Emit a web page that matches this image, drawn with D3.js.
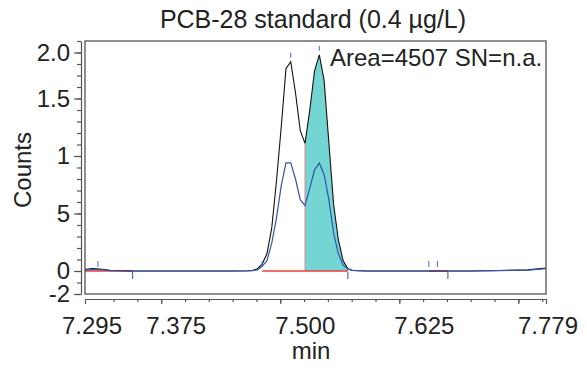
<!DOCTYPE html>
<html>
<head>
<meta charset="utf-8">
<script src="https://cdn.jsdelivr.net/npm/d3@7"></script>
<style>
  body { margin: 0; background: #fff; }
  text { font-family: "Liberation Sans", Arial, Helvetica, sans-serif; fill: #222; }
</style>
</head>
<body>
<svg id="chart" width="587" height="368"></svg>
<script>
// retention time (min)
var times = [7.295, 7.3023, 7.3107, 7.3212, 7.3454, 7.38, 7.42, 7.45, 7.466,
  7.471, 7.476, 7.481, 7.486, 7.491, 7.496, 7.501, 7.506, 7.511, 7.516, 7.521,
  7.526, 7.531, 7.536, 7.541, 7.546, 7.551, 7.556, 7.561, 7.566, 7.571, 7.576,
  7.59, 7.62, 7.65, 7.67, 7.70, 7.73, 7.76, 7.779];
// total trace (black)
var totalCounts = [0.012, 0.022, 0.018, 0.006, 0, 0, 0, 0, 0.002,
  0.005, 0.02, 0.06, 0.15, 0.37, 0.78, 1.25, 1.76, 1.82, 1.55, 1.22,
  1.11, 1.40, 1.74, 1.88, 1.66, 1.12, 0.58, 0.27, 0.09, 0.02, 0.005,
  0, 0, 0, 0, 0, 0.005, 0.01, 0.025];
// qualifier trace (blue)
var ionCounts = [0.008, 0.014, 0.012, 0.004, 0, 0, 0, 0, 0.001,
  0.003, 0.01, 0.04, 0.09, 0.24, 0.46, 0.74, 0.94, 0.94, 0.80, 0.62,
  0.57, 0.72, 0.88, 0.94, 0.84, 0.62, 0.33, 0.15, 0.05, 0.015, 0.005,
  0, 0, 0, 0, 0, 0.004, 0.008, 0.02];

// integrated peak
var peakStart = 7.526, peakEnd = 7.571;
// baselines (red)
var baseStarts = [7.295, 7.481, 7.656];
var baseEnds = [7.345, 7.571, 7.676];
// integration marks
var marksUp = [7.3086, 7.481, 7.656, 7.665];
var marksDown = [7.345, 7.571, 7.676];
var apexTimes = [7.511, 7.541];
var apexValues = [1.82, 1.88];

var yTickValues = [-0.2, 0, 0.5, 1, 1.5, 1.9];
var yTickLabels = ["-2", "0", "5", "1", "1.5", "2.0"];
var xTickValues = [7.295, 7.375, 7.5, 7.625, 7.779];
var xTickLabels = ["7.295", "7.375", "7.500", "7.625", "7.779"];

var titleText = "PCB-28 standard (0.4 \u00b5g/L)";
var areaText = "Area=4507 SN=n.a.";

var svg = d3.select("#chart");
var plotLeft = 85, plotRight = 546, plotTop = 41, plotBottom = 294;
var fs = 24;

var x = d3.scaleLinear().domain([7.295, 7.779]).range([plotLeft, plotRight]);
var y = d3.scaleLinear().domain([-0.2, 2.0]).range([plotBottom, plotTop]);

var pts = times.map(function(t, i){ return {t: t, a: totalCounts[i], b: ionCounts[i]}; });

svg.append("defs").append("clipPath").attr("id", "clip")
  .append("rect").attr("x", plotLeft).attr("y", plotTop)
  .attr("width", plotRight - plotLeft).attr("height", plotBottom - plotTop);

var plot = svg.append("g").attr("clip-path", "url(#clip)");

// peak fill
var peakPts = pts.filter(function(d){ return d.t >= peakStart - 1e-6 && d.t <= peakEnd + 1e-6; });
plot.append("path")
  .datum(peakPts)
  .attr("d", d3.area().x(function(d){ return x(d.t); }).y0(y(0)).y1(function(d){ return y(d.a); }))
  .attr("fill", "#74d6d3");
plot.append("line")
  .attr("x1", x(peakStart)).attr("x2", x(peakStart))
  .attr("y1", y(0)).attr("y2", y(peakPts[0].a))
  .attr("stroke", "#e86a6a").attr("stroke-width", 0.8);

// baselines
plot.selectAll(".base").data(baseStarts).enter().append("line")
  .attr("x1", function(d){ return x(d); })
  .attr("x2", function(d, i){ return x(baseEnds[i]); })
  .attr("y1", y(0)).attr("y2", y(0))
  .attr("stroke", "#f03c3c").attr("stroke-width", 1.4);

var line = d3.line().x(function(d){ return x(d.t); });
plot.append("path").datum(pts)
  .attr("d", line.y(function(d){ return y(d.a); }))
  .attr("fill", "none").attr("stroke", "#111").attr("stroke-width", 1.1);
plot.append("path").datum(pts)
  .attr("d", line.y(function(d){ return y(d.b); }))
  .attr("fill", "none").attr("stroke", "#3452b0").attr("stroke-width", 1.2);

// marks
plot.selectAll(".mu").data(marksUp).enter().append("line")
  .attr("x1", function(d){ return x(d); }).attr("x2", function(d){ return x(d); })
  .attr("y1", y(0) - 4).attr("y2", y(0) - 10)
  .attr("stroke", "#4a68c4").attr("stroke-width", 1);
plot.selectAll(".md").data(marksDown).enter().append("line")
  .attr("x1", function(d){ return x(d); }).attr("x2", function(d){ return x(d); })
  .attr("y1", y(0) + 1).attr("y2", y(0) + 8)
  .attr("stroke", "#3452b0").attr("stroke-width", 1);
plot.selectAll(".ma").data(apexTimes).enter().append("line")
  .attr("x1", function(d){ return x(d); }).attr("x2", function(d){ return x(d); })
  .attr("y1", function(d, i){ return y(apexValues[i]) - 4; })
  .attr("y2", function(d, i){ return y(apexValues[i]) - 9; })
  .attr("stroke", "#4a68c4").attr("stroke-width", 1);

// frame
svg.append("rect").attr("x", plotLeft).attr("y", plotTop)
  .attr("width", plotRight - plotLeft).attr("height", plotBottom - plotTop)
  .attr("fill", "none").attr("stroke", "#555").attr("stroke-width", 1.3);

// y axis
var yAxisX = 81;
svg.append("g").attr("transform", "translate(" + yAxisX + ",0)")
  .call(d3.axisLeft(y).tickValues(yTickValues).tickFormat("").tickSize(7).tickSizeOuter(0));
svg.append("g").attr("transform", "translate(" + yAxisX + ",0)")
  .call(d3.axisLeft(y).tickValues(d3.range(-2, 21).map(function(v){ return v / 10; })).tickFormat("").tickSize(4))
  .select(".domain").remove();

svg.selectAll(".ylab").data(yTickValues).enter().append("text")
  .attr("x", 70).attr("y", function(d){ return y(d) + 8; })
  .attr("text-anchor", "end").attr("font-size", fs)
  .text(function(d, i){ return yTickLabels[i]; });

// x axis
var xAxisY = 299;
svg.append("g").attr("transform", "translate(0," + xAxisY + ")")
  .call(d3.axisBottom(x).tickValues([7.295, 7.375, 7.5, 7.625, 7.75, 7.779]).tickFormat("").tickSize(5).tickSizeOuter(0));
svg.append("g").attr("transform", "translate(0," + xAxisY + ")")
  .call(d3.axisBottom(x).tickValues(d3.range(13, 32).map(function(v){ return 7 + v * 0.025; })).tickFormat("").tickSize(3))
  .select(".domain").remove();
svg.selectAll(".tick line, .domain").attr("stroke", "#555").attr("stroke-width", 1.2);

var xLabelShift = [7, 15, 25, 25, 2];
svg.selectAll(".xlab").data(xTickValues).enter().append("text")
  .attr("x", function(d, i){ return x(d) + xLabelShift[i]; }).attr("y", 334)
  .attr("text-anchor", "middle").attr("font-size", fs)
  .text(function(d, i){ return xTickLabels[i]; });

// titles
svg.append("text").attr("x", 313).attr("y", 28).attr("text-anchor", "middle")
  .attr("font-size", 25).text(titleText);
svg.append("text").attr("x", 330).attr("y", 66).attr("font-size", fs).text(areaText);
svg.append("text").attr("x", 311).attr("y", 359).attr("text-anchor", "middle")
  .attr("font-size", fs).text("min");
svg.append("text").attr("transform", "translate(31,170) rotate(-90)")
  .attr("text-anchor", "middle").attr("font-size", fs).text("Counts");
</script>
</body>
</html>
